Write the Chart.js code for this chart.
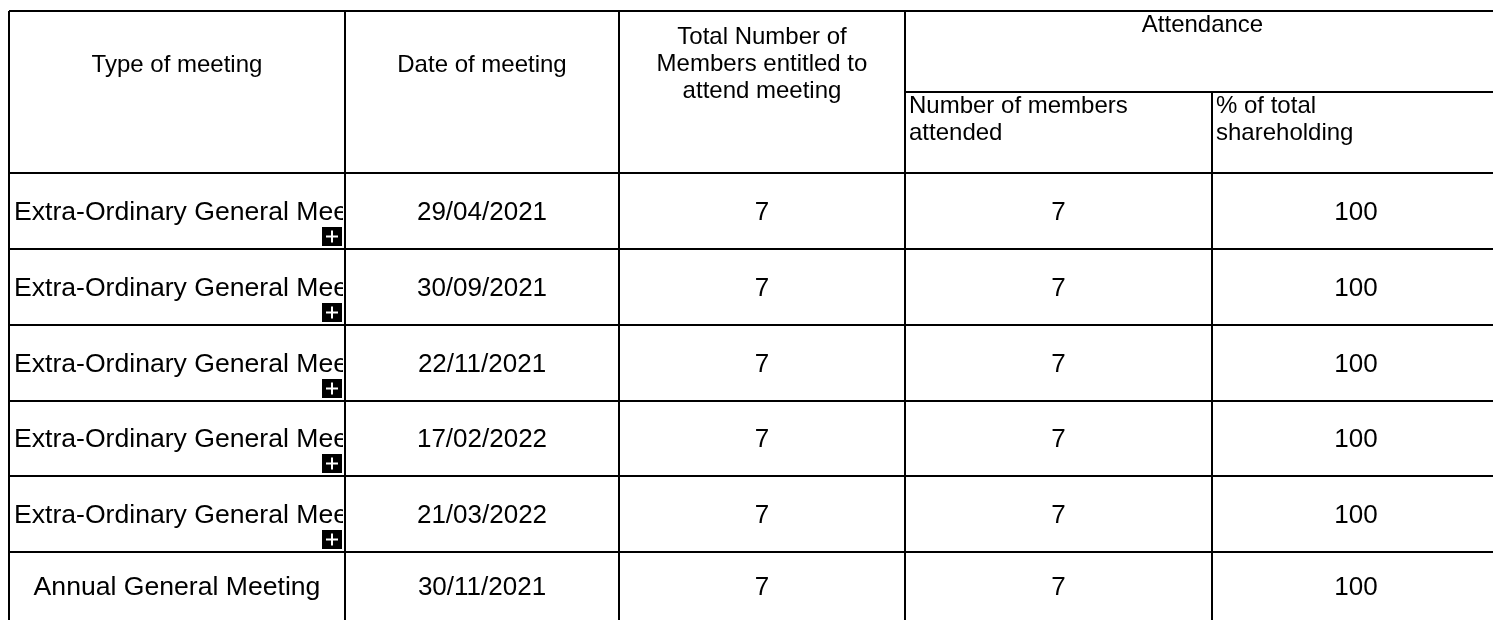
<!DOCTYPE html>
<html lang="en">
<head>
    <meta charset="UTF-8">
    <title>Attendance at meetings</title>
    <script src="https://cdn.jsdelivr.net/npm/chart.js"></script>
    <style>
        html, body { margin: 0; padding: 0; background: #fff; }
        #wrap { width: 1493px; height: 620px; }
    </style>
</head>
<body>
<div id="wrap">
    <canvas id="myChart" width="1493" height="620"></canvas>
</div>
<script>
// table data
const meetingTypes = [
    'Extra-Ordinary General Meeting',
    'Extra-Ordinary General Meeting',
    'Extra-Ordinary General Meeting',
    'Extra-Ordinary General Meeting',
    'Extra-Ordinary General Meeting',
    'Annual General Meeting'
];
const meetingDates = ['29/04/2021', '30/09/2021', '22/11/2021', '17/02/2022', '21/03/2022', '30/11/2021'];
const membersEntitled = [7, 7, 7, 7, 7, 7];
const membersAttended = [7, 7, 7, 7, 7, 7];
const shareholdingPct = [100, 100, 100, 100, 100, 100];
const hasExpand = [true, true, true, true, true, false];

const headerTitles = ['Type of meeting', 'Date of meeting', ['Total Number of', 'Members entitled to', 'attend meeting']];
const groupTitle = 'Attendance';
const subTitles = [['Number of members', 'attended'], ['% of total', 'shareholding']];

// layout (in scale units = pixels)
const colEdges = [9, 345, 619, 905, 1212, 1500];
const rowEdges = [173, 249, 325, 401, 476, 552, 620];
const tableTop = 11;
const subHeaderY = 92;

const FONT = '"Liberation Sans", Arial, sans-serif';

const tablePlugin = {
    id: 'tablePlugin',
    afterDraw(chart) {
        const ctx = chart.ctx;
        const xs = chart.scales.x;
        const ys = chart.scales.y;
        const X = v => xs.getPixelForValue(v);
        const Y = v => ys.getPixelForValue(v);
        const right = X(colEdges[colEdges.length - 1]);
        const mid = i => X((colEdges[i] + colEdges[i + 1]) / 2);

        ctx.save();
        ctx.fillStyle = '#000';

        // header texts
        ctx.font = '24px ' + FONT;
        ctx.textAlign = 'center';
        ctx.textBaseline = 'alphabetic';
        ctx.fillText(headerTitles[0], mid(0), Y(71.7));
        ctx.fillText(headerTitles[1], mid(1), Y(71.7));
        headerTitles[2].forEach((line, k) => ctx.fillText(line, mid(2), Y(44.3 + k * 26.8)));
        ctx.fillText(groupTitle, X((colEdges[3] + colEdges[5]) / 2), Y(31.7));
        ctx.textAlign = 'left';
        subTitles.forEach((lines, s) => {
            lines.forEach((line, k) => ctx.fillText(line, X(colEdges[3 + s]) + 4, Y(113.3 + k * 26.8)));
        });

        // body rows
        meetingTypes.forEach((type, r) => {
            const top = rowEdges[r];
            const bottom = rowEdges[r + 1];
            const base = Y((top + bottom) / 2 + 8.5);

            // first column: clipped, left aligned when the name is too long
            ctx.save();
            ctx.font = '26.6px ' + FONT;
            ctx.beginPath();
            ctx.rect(X(colEdges[0]) + 1, Y(top), X(colEdges[1]) - X(colEdges[0]) - 3, Y(bottom) - Y(top));
            ctx.clip();
            const w = ctx.measureText(type).width;
            const cw = X(colEdges[1]) - X(colEdges[0]);
            if (w > cw - 10) {
                ctx.textAlign = 'left';
                ctx.fillText(type, X(colEdges[0]) + 5, base);
            } else {
                ctx.textAlign = 'center';
                ctx.fillText(type, mid(0), base);
            }
            ctx.restore();

            ctx.font = '26px ' + FONT;
            ctx.textAlign = 'center';
            ctx.fillText(meetingDates[r], mid(1), base);
            ctx.fillText(String(membersEntitled[r]), mid(2), base);
            ctx.fillText(String(membersAttended[r]), mid(3), base);
            ctx.fillText(String(shareholdingPct[r]), mid(4), base);

            // expand icon
            if (hasExpand[r]) {
                const bx = X(colEdges[1]) - 23;
                const by = Y(bottom) - 22;
                ctx.fillStyle = '#000';
                ctx.fillRect(bx, by, 20, 19);
                ctx.strokeStyle = '#fff';
                ctx.lineWidth = 2;
                ctx.beginPath();
                ctx.moveTo(bx + 4, by + 9.5);
                ctx.lineTo(bx + 16, by + 9.5);
                ctx.moveTo(bx + 10, by + 3.5);
                ctx.lineTo(bx + 10, by + 15.5);
                ctx.stroke();
                ctx.fillStyle = '#000';
            }
        });

        // grid lines
        ctx.strokeStyle = '#000';
        ctx.lineWidth = 2;
        ctx.beginPath();
        ctx.moveTo(X(colEdges[0]), Y(tableTop));
        ctx.lineTo(right, Y(tableTop));
        ctx.moveTo(X(colEdges[3]), Y(subHeaderY));
        ctx.lineTo(right, Y(subHeaderY));
        rowEdges.slice(0, -1).forEach(r => {
            ctx.moveTo(X(colEdges[0]), Y(r));
            ctx.lineTo(right, Y(r));
        });
        colEdges.slice(0, -1).forEach((c, i) => {
            const startY = i === 4 ? subHeaderY : tableTop;
            ctx.moveTo(X(c), Y(startY));
            ctx.lineTo(X(c), Y(rowEdges[rowEdges.length - 1]));
        });
        ctx.stroke();
        ctx.restore();
    }
};

const ctx = document.getElementById('myChart').getContext('2d');
new Chart(ctx, {
    type: 'scatter',
    data: { datasets: [] },
    options: {
        responsive: false,
        animation: false,
        layout: { padding: 0 },
        plugins: { legend: { display: false }, tooltip: { enabled: false } },
        scales: {
            x: { type: 'linear', min: 0, max: 1493, display: false },
            y: { type: 'linear', min: 0, max: 620, reverse: true, display: false }
        }
    },
    plugins: [tablePlugin]
});
</script>
</body>
</html>
